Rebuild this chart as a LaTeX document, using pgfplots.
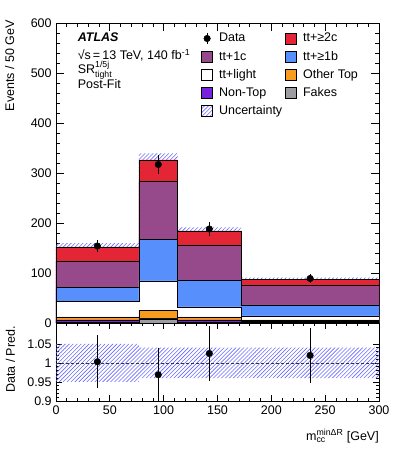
\documentclass[border=0pt]{standalone}
\usepackage{fontspec}
\setmainfont{Liberation Sans}
\usepackage{amsmath}
\usepackage{pgfplots}
\pgfplotsset{compat=1.18}
\usetikzlibrary{patterns,patterns.meta}

\definecolor{cTwoC}{HTML}{E42536}
\definecolor{cOneC}{HTML}{964A8B}
\definecolor{cOneB}{HTML}{5790FC}
\definecolor{cOther}{HTML}{F89C20}
\definecolor{cNonTop}{HTML}{7A21DD}
\definecolor{cFakes}{HTML}{9C9CA1}
\definecolor{cUnc}{RGB}{105,105,255}

\newcommand\chartfont{\fontsize{12.5}{15}\selectfont}

\tikzset{hatch/.style={pattern={Lines[angle=45, distance=2.8pt, line width=0.6pt]}, pattern color=cUnc}}

\pgfplotsset{
  atlas/.style={
    scale only axis, width=323pt,
    xmin=0, xmax=300,
    tick align=inside,
    axis line style={line width=0.8pt},
    every tick/.style={line width=0.7pt, black},
    xtick={0,50,...,300}, minor x tick num=4,
    tick label style={font=\chartfont},
    label style={font=\chartfont},
  },
  stk/.style={const plot, fill=#1, draw=black, line width=0.8pt},
  legbox/.style={legend image code/.code={\draw[#1, line width=0.8pt] (0pt,-5.5pt) rectangle (11pt,5.5pt);}},
}

\begin{document}
\chartfont
\begin{tikzpicture}
\path[use as bounding box] (-56pt,-48pt) rectangle (343pt,401pt);

% ---- upper panel
\begin{axis}[atlas,
  at={(0pt,78pt)}, anchor=south west,
  height=300pt,
  ymin=0, ymax=600,
  ytick={0,100,...,600}, yticklabels={0,100,200,300,400,500,600},
  minor y tick num=4,
  major tick length=8pt, minor tick length=4pt,
  xticklabels={},
  ylabel={Events / 50 GeV},
  ylabel style={at={(axis description cs:-0.130,1.01)}, anchor=base east, inner sep=0pt},
  legend columns=2,
  legend cell align=left,
  legend style={at={(rel axis cs:0.449,0.969)}, anchor=north west,
    draw=none, fill=none, inner sep=0pt, font=\chartfont,
    row sep=6.4pt, nodes={inner sep=0pt},
    /tikz/every odd column/.append style={column sep=6pt},
    /tikz/every even column/.append style={column sep=3pt}},
]
% legend, in the order of the reference
\addlegendimage{legend image code/.code={
  \draw[line width=1pt] (5.5pt,-5.5pt)--(5.5pt,5.5pt);
  \fill (5.5pt,0pt) circle (3.3pt);}}
\addlegendentry{Data}
\addlegendimage{legbox={fill=cTwoC}}   \addlegendentry{tt+≥2c}
\addlegendimage{legbox={fill=cOneC}}   \addlegendentry{tt+1c}
\addlegendimage{legbox={fill=cOneB}}   \addlegendentry{tt+≥1b}
\addlegendimage{legbox={fill=white}}   \addlegendentry{tt+light}
\addlegendimage{legbox={fill=cOther}}  \addlegendentry{Other Top}
\addlegendimage{legbox={fill=cNonTop}} \addlegendentry{Non-Top}
\addlegendimage{legbox={fill=cFakes}}  \addlegendentry{Fakes}
\addlegendimage{legend image code/.code={
  \fill[hatch] (0pt,-5.5pt) rectangle (11pt,5.5pt);}}
\addlegendentry{Uncertainty}

% uncertainty band (upper edge; the lower part lies under the stack)
\addplot[const plot, hatch, draw=none, forget plot]
  coordinates {(0,159.6) (77,339) (113,191.4) (172,90.5) (300,90.5)} \closedcycle;

% stack, cumulative heights per bin (bin edges 0,77,113,172,300)
\addplot[stk=cTwoC, forget plot]   coordinates {(0,152) (77,326) (113,184) (172,87) (300,87)} \closedcycle;
\addplot[stk=cOneC, forget plot]   coordinates {(0,123) (77,283) (113,155) (172,75) (300,75)} \closedcycle;
\addplot[stk=cOneB, forget plot]   coordinates {(0,71) (77,167) (113,85) (172,36) (300,36)} \closedcycle;
\addplot[stk=white, forget plot]   coordinates {(0,43) (77,84) (113,32) (172,14) (300,14)} \closedcycle;
\addplot[stk=cOther, forget plot]  coordinates {(0,12) (77,25) (113,12) (172,6) (300,6)} \closedcycle;
\addplot[stk=cNonTop, forget plot] coordinates {(0,6) (77,9) (113,6) (172,3) (300,3)} \closedcycle;
\addplot[stk=cFakes, forget plot]  coordinates {(0,1) (77,8) (113,1) (172,0.5) (300,0.5)} \closedcycle;

% data
\addplot[only marks, mark=*, mark size=3.3pt, black, forget plot,
  error bars/.cd, y dir=both, y explicit, error mark=none,
  error bar style={line width=1pt, black}]
  coordinates {(38.4,154) +- (0,12.4) (95,317) +- (0,19) (142.4,188) +- (0,13.7) (236,89) +- (0,9.4)};

\node[anchor=base west, font=\chartfont\bfseries\itshape] at (rel axis cs:0.054,0.9377) {ATLAS};
\node[anchor=base west, font=\chartfont] at (rel axis cs:0.054,0.8767) {√s\,=\,13 TeV, 140 fb\textsuperscript{-1}};
\node[anchor=base west, font=\chartfont] at (rel axis cs:0.054,0.8323) {SR$^{\text{1/5j}}_{\text{tight}}$};
\node[anchor=base west, font=\chartfont] at (rel axis cs:0.054,0.7823) {Post-Fit};
\end{axis}

% ---- ratio panel
\begin{axis}[atlas,
  at={(0pt,0pt)}, anchor=south west,
  height=78pt,
  ymin=0.9, ymax=1.105,
  ytick={0.9,0.95,1,1.05}, yticklabels={0.9,0.95,1,1.05},
  minor y tick num=4,
  major tick length=6pt, minor tick length=3pt,
  xticklabels={0,50,100,150,200,250,300},
  ylabel={Data / Pred.},
  ylabel style={at={(axis description cs:-0.127,0.532)}, anchor=base, inner sep=0pt},
  xlabel={m$^{\text{minΔR}}_{\text{cc}}$ [GeV]},
  xlabel style={at={(axis description cs:1,-0.5)}, anchor=base east, inner sep=0pt},
]
\addplot[hatch, draw=none]
  coordinates {(0,1.05) (77,1.05) (77,1.04) (113,1.04) (172,1.04) (300,1.04)
               (300,0.96) (172,0.96) (113,0.96) (77,0.96) (77,0.95) (0,0.95)} --cycle;
\addplot[black!80, line width=0.6pt, dash pattern=on 3pt off 2pt] coordinates {(0,1) (300,1)};
\addplot[only marks, mark=*, mark size=3.3pt, black,
  error bars/.cd, y dir=both, y explicit, error mark=none,
  error bar style={line width=1pt, black}]
  coordinates {(38.4,1.003) +- (0,0.07) (95,0.969) +- (0,0.07) (142.4,1.025) +- (0,0.072) (236,1.020) +- (0,0.073)};
\end{axis}
\end{tikzpicture}
\end{document}
